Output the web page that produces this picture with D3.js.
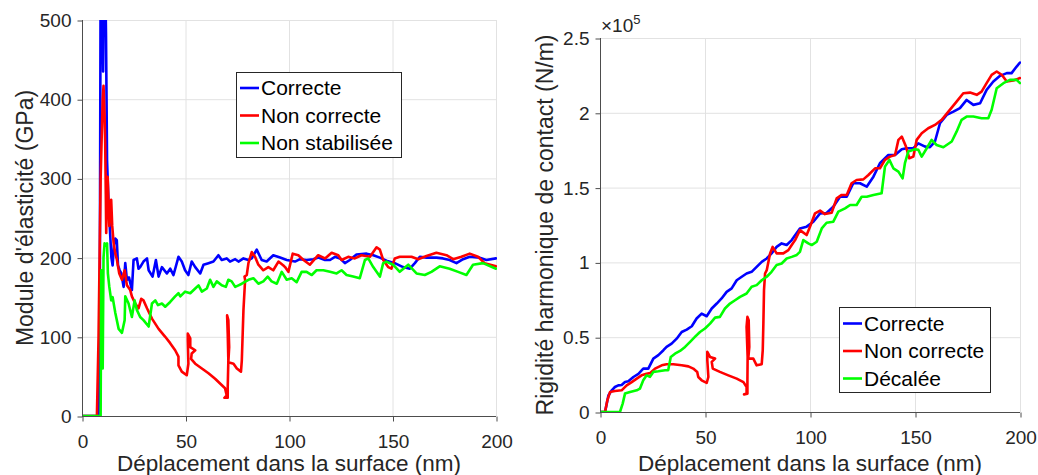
<!DOCTYPE html>
<html><head><meta charset="utf-8">
<script src="https://cdn.jsdelivr.net/npm/d3@7"></script>
<style>
html,body{margin:0;padding:0;background:#fff;}
svg{display:block;font-family:"Liberation Sans",Arial,Helvetica,sans-serif;}
</style></head>
<body>
<svg id="chart" width="1038" height="475"></svg>
<script>
// ---------- DATA ----------
const xLabel = "Déplacement dans la surface (nm)";
const yLabelLeft = "Module d'élasticité (GPa)";
const yLabelRight = "Rigidité harmonique de contact (N/m)";
const legendLeft = ["Correcte", "Non correcte", "Non stabilisée"];
const legendRight = ["Correcte", "Non correcte", "Décalée"];
const xTicks = [0, 50, 100, 150, 200];
const yTicksLeft = [0, 100, 200, 300, 400, 500];
const yTicksRight = [0, 0.5, 1, 1.5, 2, 2.5];
const rightExponent = "5";

// Left panel: modulus (GPa) vs displacement (nm), [x, E]
const modCorrecte = [[0,0],[8.0,0],[8.6,150],[9.0,560],[9.6,560],[10.2,435],[10.6,560],[11.2,560],[11.6,480],[12.1,323],[12.8,270],[13.4,240],[14.2,200],[14.8,190],[15.4,215],[16.1,224],[16.8,222],[17.4,190],[18.2,184],[19,180],[20.1,163],[20.9,193],[21.7,172],[22.7,175],[24.1,159],[24.9,197],[26.5,199],[27.3,186],[28.1,188],[29.7,195],[31.4,199],[32.2,184],[34.1,176],[35.7,197],[37,176],[38.6,188],[41,180],[42.6,186],[44.2,178],[46.6,201],[48.2,195],[49.8,184],[51.4,178],[53,195],[54.7,188],[57.1,180],[58.7,191],[61.1,193],[63.5,195],[65.9,203],[67.5,197],[69.9,199],[71.5,195],[74,198],[75.6,195],[78,199],[80.4,197],[82,199],[84.4,210],[86.8,197],[89.2,195],[92.4,203],[95.7,200],[98.9,197],[102.9,195],[105.3,198],[108.5,197],[111.7,198],[114.2,200],[117.4,197],[119.8,197],[122.2,201],[124.6,199],[127,193],[129.4,197],[132.6,204],[137.5,205],[140.7,203],[143.9,200],[147.1,196],[151.1,193],[155.1,188],[158.4,186],[160.8,193],[163.2,201],[166.4,200],[171.2,200],[174.4,199],[177.6,197],[180.9,193],[184.1,198],[187.3,201],[192.1,200],[195.3,197],[200,199]];
const modNonCorrecte = [[0,0],[7.2,0],[8.0,100],[9.0,300],[10.0,400],[10.4,417],[10.9,380],[11.2,345],[11.5,280],[11.7,231],[12.1,298],[12.4,302],[12.9,260],[13.2,240],[13.7,268],[14.1,273],[14.6,240],[15.3,218],[16.1,205],[16.9,197],[18,180],[19.3,172],[20.6,184],[21.7,165],[23.3,159],[24.1,151],[25.7,142],[27.3,136],[28.6,148],[29.7,146],[31.4,136],[33.8,123],[37,110],[40.2,100],[42.6,92],[45,83],[46.6,75],[46.6,64],[48.2,56],[50.6,51.5],[51.4,66],[51.1,96],[51.1,104],[52.3,98],[52.3,87],[54.7,83],[53,79],[52.7,72],[54.7,66],[57.9,60],[61.1,54],[64.3,47],[66.7,41],[69.1,35],[69.9,26],[68.8,23],[70.4,23],[70.4,37],[70.7,70],[70.4,104],[70.1,127],[70.7,121],[71.1,87],[70.7,68],[73.2,66],[74.8,60],[76.8,56],[77.2,70],[78,134],[78.8,172],[78.5,176],[79.6,178],[80.4,193],[82,207],[83.6,201],[85.2,191],[87.6,184],[90,188],[92.4,184],[94.9,195],[97.3,190],[98.1,188],[99.7,182],[101.8,205],[104.5,203],[107,197],[110.1,191],[114.1,203],[117.4,199],[120.6,206],[123.8,203],[125.4,197],[128.6,201],[131.8,199],[135,203],[139.1,201],[142.3,213],[143.9,210],[145.5,197],[147.9,188],[149.5,186],[151.1,199],[153.5,201],[159.2,201],[162.4,198],[166.4,202],[171.2,206],[176.1,203],[179.3,198],[183.3,201],[187.3,205],[191.3,201],[194.5,193],[200,189]];
const modNonStabilisee = [[0,0],[9.0,0],[9.3,184],[9.7,150],[10.0,60],[10.4,200],[10.9,218],[11.5,215],[12.1,218],[12.5,180],[13.2,163],[14.1,146],[14.8,150],[16.1,130],[17.7,110],[19.3,105],[20.6,121],[20.9,151],[22.5,142],[24.1,125],[25.4,146],[26.5,134],[28.1,125],[29.7,121],[32.2,113],[33.8,142],[35.4,146],[36.7,140],[38.6,142],[40.2,138],[42.6,144],[45,151],[46.6,155],[47.5,151],[49.8,157],[52.3,155],[54.7,161],[56.3,165],[57.9,157],[60.3,161],[61.9,172],[63.5,163],[65.1,170],[67.5,165],[69.5,163],[70.7,172],[72.3,170],[74,163],[75.6,165],[77.2,167],[80.4,172],[82.8,174],[85.2,167],[87.6,170],[89.7,176],[91.6,170],[94.1,167],[96.5,182],[98.9,172],[101.3,174],[103.7,169],[106.1,182],[108.5,182],[111,178],[113.3,184],[116.6,184],[119.8,182],[123,180],[125.4,184],[127.8,178],[131,176],[134.2,174],[136.7,197],[138.3,199],[140.7,188],[143.9,176],[145.5,193],[147.1,195],[150.3,191],[153.5,182],[157.6,191],[161.6,180],[165.6,178],[168.8,182],[172.8,189],[177.6,186],[181.7,182],[185.7,178],[188.9,191],[193.7,193],[200,186]];

// Right panel: contact stiffness (x1e5 N/m) vs displacement (nm), [x, S]
const rigCorrecte = [[0,0],[2.4,0],[4,0.11],[5.6,0.145],[7.1,0.167],[8.7,0.178],[10.3,0.18],[11.9,0.2],[13.5,0.205],[15.9,0.234],[18.3,0.255],[20.6,0.29],[23,0.29],[25.4,0.357],[27.8,0.38],[30.2,0.413],[31.7,0.435],[34.1,0.457],[36.5,0.49],[38.9,0.535],[41.3,0.551],[43.7,0.573],[46,0.625],[48.4,0.658],[50.8,0.64],[53.2,0.692],[55.6,0.725],[57.9,0.759],[60.3,0.803],[62.7,0.826],[65.1,0.881],[67.5,0.904],[69.8,0.926],[72.2,0.937],[74.6,0.97],[77,1.004],[79.4,1.026],[81.7,1.06],[84.1,1.104],[86.5,1.127],[88.9,1.116],[91.3,1.149],[95.2,1.227],[98.4,1.239],[101.6,1.272],[104.8,1.328],[107.9,1.33],[111.1,1.372],[114.3,1.439],[117.5,1.439],[120.6,1.529],[123.8,1.529],[127,1.506],[130.2,1.573],[133.3,1.663],[137.3,1.718],[140.5,1.718],[143.7,1.756],[146,1.763],[149.2,1.763],[151.6,1.796],[154.8,1.774],[157.1,1.77],[159.5,1.808],[161.9,1.93],[165.1,1.986],[168.3,2.008],[171.4,2.031],[174.6,2.086],[177.8,2.053],[181,2.064],[184.1,2.153],[187.3,2.209],[190.5,2.247],[193.7,2.265],[196,2.265],[198.4,2.309],[200,2.336]];
const rigNonCorrecte = [[0,0],[2.4,0],[3.5,0.078],[4.8,0.134],[7.1,0.14],[10.3,0.145],[12.7,0.178],[15.1,0.2],[17.5,0.223],[19.8,0.245],[22.2,0.256],[23.8,0.26],[26.2,0.29],[29.4,0.312],[31.7,0.319],[34.9,0.319],[38.9,0.312],[42.1,0.305],[44.4,0.29],[46.3,0.268],[46.8,0.234],[48.4,0.212],[50.8,0.194],[51.6,0.234],[51.1,0.346],[51.1,0.402],[52.4,0.368],[54.8,0.357],[53.2,0.335],[53.7,0.29],[57.1,0.268],[61.1,0.245],[65.1,0.223],[68.3,0.2],[69.8,0.167],[69.8,0.122],[68.6,0.118],[70.2,0.122],[70.2,0.21],[70.3,0.368],[69.8,0.569],[70.2,0.636],[70.8,0.613],[71.1,0.435],[70.6,0.357],[73,0.357],[74.6,0.312],[77,0.319],[77.5,0.413],[77.8,0.591],[78.1,0.814],[78.6,0.926],[79.4,0.948],[81,1.06],[82.2,1.104],[84.1,1.06],[87.3,1.06],[89.7,1.082],[91.3,1.116],[92.9,1.149],[95.2,1.216],[98.4,1.183],[100,1.239],[102.4,1.328],[104.8,1.346],[107.1,1.323],[110.3,1.332],[112.7,1.428],[115.1,1.451],[117.5,1.451],[119.8,1.529],[122.2,1.551],[125.4,1.555],[127.8,1.584],[131,1.629],[133.3,1.629],[135.7,1.685],[138.1,1.707],[140.5,1.718],[142.1,1.819],[143.7,1.841],[145.7,1.774],[147.3,1.696],[149.2,1.707],[150.8,1.819],[153.2,1.863],[156.3,1.897],[159.5,1.919],[162.7,1.953],[165.9,2.008],[169.8,2.075],[173,2.131],[176.2,2.135],[179.4,2.12],[181.7,2.142],[184.1,2.198],[186.5,2.254],[188.9,2.276],[191.3,2.254],[193.7,2.209],[196.8,2.216],[200,2.232]];
const rigDecalee = [[0,0],[9.5,0],[10.8,0.056],[11.9,0.123],[14.3,0.134],[17.5,0.145],[19,0.156],[20.6,0.212],[22.2,0.245],[23.8,0.235],[25.4,0.268],[27.8,0.272],[31,0.279],[32.5,0.28],[33.7,0.368],[35.7,0.39],[38.1,0.408],[40.5,0.435],[42.9,0.469],[45.2,0.502],[47.6,0.535],[50,0.558],[52.4,0.591],[54.8,0.631],[57.1,0.636],[59.5,0.692],[61.9,0.725],[64.3,0.747],[66.7,0.77],[69.8,0.792],[72.2,0.837],[74.6,0.848],[77,0.881],[79.4,0.904],[81.7,0.937],[84.1,0.982],[86.5,0.993],[88.9,1.026],[91.3,1.037],[93.7,1.05],[95.2,1.07],[96.8,1.149],[99.2,1.127],[100.8,1.116],[103.2,1.138],[105.6,1.227],[107.9,1.265],[111.1,1.272],[113.5,1.339],[116.7,1.361],[119.1,1.384],[122.2,1.384],[124.6,1.439],[127,1.439],[130.2,1.451],[134.1,1.462],[135.7,1.64],[137.8,1.685],[139.7,1.629],[142.1,1.607],[144.1,1.562],[145.2,1.663],[146.8,1.741],[150,1.756],[151.6,1.752],[153.2,1.707],[155.6,1.763],[157.9,1.819],[160.3,1.785],[163.5,1.77],[167.5,1.808],[169.8,1.874],[172.2,1.953],[174.6,1.975],[177.8,1.975],[181.7,1.964],[184.9,1.964],[186.5,2.02],[188.9,2.164],[192.1,2.198],[195.2,2.22],[198.4,2.22],[200,2.198]];

const colors = ["#0000ff", "#ff0000", "#00ff00"];

// ---------- DRAW ----------
const svg = d3.select("#chart");
const gridColor = "#e2e2e2";
const axisColor = "#4d4d4d";
const textColor = "#262626";

function panel(opts) {
  const {id, x0, x1, y0, y1, yDomain, yTicks, yFmt, series, legend, legendBox, yLabel, yLabelX} = opts;
  const x = d3.scaleLinear().domain([0, 200]).range([x0, x1]);
  const y = d3.scaleLinear().domain(yDomain).range([y0, y1]);
  const g = svg.append("g");

  // grid
  g.append("g").selectAll("line").data(xTicks).join("line")
    .attr("x1", d => x(d) + 0.5).attr("x2", d => x(d) + 0.5)
    .attr("y1", y1).attr("y2", y0)
    .attr("stroke", gridColor).attr("stroke-width", 1);
  g.append("g").selectAll("line").data(yTicks).join("line")
    .attr("y1", d => y(d) + 0.5).attr("y2", d => y(d) + 0.5)
    .attr("x1", x0).attr("x2", x1)
    .attr("stroke", gridColor).attr("stroke-width", 1);

  // clip
  svg.append("clipPath").attr("id", "clip" + id)
    .append("rect").attr("x", x0).attr("y", y1).attr("width", x1 - x0 + 1).attr("height", y0 - y1 + 1);

  const line = d3.line().x(d => x(d[0])).y(d => y(d[1]));
  const lines = g.append("g").attr("clip-path", `url(#clip${id})`);
  series.forEach((s, i) => {
    lines.append("path").datum(s).attr("d", line)
      .attr("fill", "none").attr("stroke", colors[i])
      .attr("stroke-width", 2.6).attr("stroke-linejoin", "round").attr("stroke-linecap", "round");
  });

  // axes
  const xAxis = d3.axisBottom(x).tickValues(xTicks).tickSize(5).tickPadding(13).tickFormat(d3.format("d"));
  const xa = g.append("g").attr("transform", `translate(0.5,${y0 + 0.5})`).call(xAxis);
  const yAxis = d3.axisLeft(y).tickValues(yTicks).tickSize(5).tickPadding(6).tickFormat(yFmt);
  const ya = g.append("g").attr("transform", `translate(${x0 + 0.5},0.5)`).call(yAxis);
  [xa, ya].forEach(a => {
    a.select(".domain").attr("stroke", axisColor).attr("stroke-width", 1);
    a.selectAll(".tick line").attr("stroke", axisColor);
    a.selectAll("text").attr("fill", textColor).style("font-size", "19px")
      .style("font-family", '"Liberation Sans",Arial,sans-serif');
  });
  xa.select(".domain").attr("d", `M${x0 - 0.5},0H${x1 - 0.5}`);
  ya.select(".domain").attr("d", `M0,${y0 - 0.5}V${y1 - 0.5}`);

  // axis labels
  g.append("text").attr("x", (x0 + x1) / 2).attr("y", 471)
    .attr("text-anchor", "middle").attr("fill", textColor)
    .style("font-size", "22.5px").text(xLabel);
  g.append("text").attr("transform", `translate(${yLabelX},${(y0 + y1) / 2}) rotate(-90)`)
    .attr("text-anchor", "middle").attr("fill", textColor)
    .style("font-size", "23px").text(yLabel);

  // legend
  const lb = legendBox;
  const lg = g.append("g");
  lg.append("rect").attr("x", lb.x + 0.5).attr("y", lb.y + 0.5).attr("width", lb.w).attr("height", lb.h)
    .attr("fill", "#fff").attr("stroke", "#262626").attr("stroke-width", 1);
  legend.forEach((name, i) => {
    const cy = lb.rowY[i];
    lg.append("line").attr("x1", lb.x + 4).attr("x2", lb.x + 23).attr("y1", cy).attr("y2", cy)
      .attr("stroke", colors[i]).attr("stroke-width", 2.6);
    lg.append("text").attr("x", lb.x + 25).attr("y", cy).attr("dy", "0.35em")
      .attr("fill", "#000").style("font-size", "21px").text(name);
  });
  return {x, y, g};
}

panel({
  id: "L", x0: 82, x1: 496, y0: 416, y1: 20,
  yDomain: [0, 500], yTicks: yTicksLeft, yFmt: d3.format("d"),
  series: [modCorrecte, modNonCorrecte, modNonStabilisee],
  legend: legendLeft,
  legendBox: {x: 236, y: 72, w: 165, h: 85, rowY: [88, 115.5, 143]},
  yLabel: yLabelLeft, yLabelX: 33
});

const R = panel({
  id: "R", x0: 600, x1: 1020, y0: 412, y1: 38,
  yDomain: [0, 2.5], yTicks: yTicksRight, yFmt: d => String(d),
  series: [rigCorrecte, rigNonCorrecte, rigDecalee],
  legend: legendRight,
  legendBox: {x: 839, y: 307, w: 151, h: 85, rowY: [323.5, 351, 378.5]},
  yLabel: yLabelRight, yLabelX: 553
});

// exponent label x10^5
const ex = R.g.append("text").attr("x", 601).attr("y", 32).attr("fill", textColor).style("font-size", "19px");
ex.append("tspan").text("×10");
ex.append("tspan").attr("dy", -8).style("font-size", "13px").text(rightExponent);
</script>
</body></html>
